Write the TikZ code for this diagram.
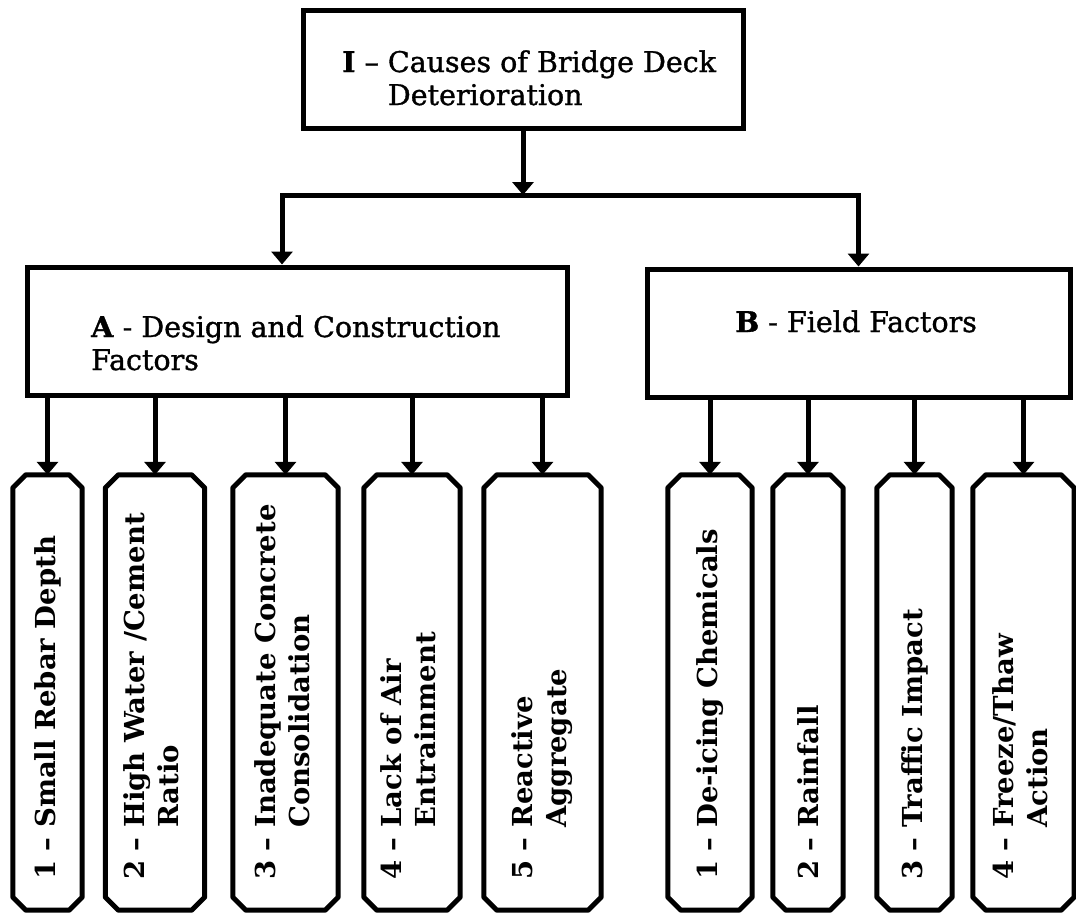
\documentclass[tikz,border=0pt]{standalone}
\usepackage{fontspec}
\setmainfont{DejaVu Serif}
\newfontfamily\headfont{DejaVu Serif}[Ligatures=TeX, FakeBold=1.2]
\usetikzlibrary{arrows.meta,calc}

\begin{document}
\begin{tikzpicture}[x=1pt,y=-1pt,
  box/.style={draw, line width=5pt, rectangle, inner sep=0pt},
  leaf/.style={rectangle, inner sep=0pt, minimum height=435pt},
  outline/.style={draw, line width=5pt, line join=round},
  head/.style={font=\headfont\fontsize{28.5}{33}\selectfont, inner sep=0pt,
    anchor=base west, align=left},
  vlab/.style={font=\bfseries\fontsize{27.5}{34}\selectfont, inner sep=0pt,
    rotate=90, anchor=west},
  conn/.style={line width=5pt, -{Triangle[width=21pt,length=13pt]}},
  bus/.style={line width=5pt, line cap=rect},
]
\useasboundingbox (0,0) rectangle (1076,916);

% top level
\node[box, minimum width=440pt, minimum height=118pt] (top) at (523,69) {};
\node[head] (topT) at (342,72)
  {\begin{tabular}[t]{@{}l@{}l@{}}\textbf{I} --~ & Causes of Bridge Deck\\ & Deterioration\end{tabular}};

% second level
\node[box, minimum width=540pt, minimum height=128pt] (A) at (297,331) {};
\node[head] (AT) at (91,337)
  {\begin{tabular}[t]{@{}l@{}}\textbf{A} - Design and Construction\\Factors\end{tabular}};
\node[box, minimum width=423pt, minimum height=128pt] (B) at (858.5,333) {};
\node[head] (BT) at (735,332) {\textbf{B} - Field Factors};

% bus between the levels
\coordinate (busL) at (282,195);
\coordinate (busR) at (858.5,195);
\draw[bus] (busL) -- (busR);
\draw[conn] (top.south) -- (top.south |- busL);
\draw[conn] (busL) -- (busL |- A.north);
\draw[conn] (busR) -- (busR |- B.north);

% leaves under A
\node[leaf, minimum width=69pt]  (a1) at (47.5,692.5) {};
\node[leaf, minimum width=99pt]  (a2) at (155,692.5) {};
\node[leaf, minimum width=105pt] (a3) at (285.5,692.5) {};
\node[leaf, minimum width=96pt]  (a4) at (412,692.5) {};
\node[leaf, minimum width=117pt] (a5) at (542.5,692.5) {};
% leaves under B
\node[leaf, minimum width=84pt]  (b1) at (710,692.5) {};
\node[leaf, minimum width=70pt]  (b2) at (808,692.5) {};
\node[leaf, minimum width=75pt]  (b3) at (914.5,692.5) {};
\node[leaf, minimum width=101pt] (b4) at (1023.5,692.5) {};

% chamfered outlines of the leaves
\foreach \n in {a1,a2,a3,a4,a5,b1,b2,b3,b4}
  \draw[outline]
    ($(\n.north west)+(13,0)$) -- ($(\n.north east)+(-13,0)$) --
    ($(\n.north east)+(0,13)$) -- ($(\n.south east)+(0,-13)$) --
    ($(\n.south east)+(-13,0)$) -- ($(\n.south west)+(13,0)$) --
    ($(\n.south west)+(0,-13)$) -- ($(\n.north west)+(0,13)$) -- cycle;

\foreach \n in {a1,a2,a3,a4,a5} \draw[conn] (\n.north |- A.south) -- (\n.north);
\foreach \n in {b1,b2,b3,b4} \draw[conn] (\n.north |- B.south) -- (\n.north);

% leaf captions, reading upwards
\node[vlab] (a1T) at (47.5,880) {1 -- Small Rebar Depth};
\node[vlab] (a2T) at (155,880)
  {\begin{tabular}{@{}l@{}l@{}}2 --~ & High Water /Cement\\ & Ratio\end{tabular}};
\node[vlab] (a3T) at (285.5,880)
  {\begin{tabular}{@{}l@{}l@{}}3 --~ & Inadequate Concrete\\ & Consolidation\end{tabular}};
\node[vlab] (a4T) at (412,880)
  {\begin{tabular}{@{}l@{}l@{}}4 --~ & Lack of Air\\ & Entrainment\end{tabular}};
\node[vlab] (a5T) at (542.5,880)
  {\begin{tabular}{@{}l@{}l@{}}5 --~ & Reactive\\ & Aggregate\end{tabular}};
\node[vlab] (b1T) at (710,880) {1 -- De-icing Chemicals};
\node[vlab] (b2T) at (808,880) {2 -- Rainfall};
\node[vlab] (b3T) at (914.5,880) {3 -- Traffic Impact};
\node[vlab] (b4T) at (1023.5,880)
  {\begin{tabular}{@{}l@{}l@{}}4 --~ & Freeze/Thaw\\ & Action\end{tabular}};
\end{tikzpicture}
\end{document}
